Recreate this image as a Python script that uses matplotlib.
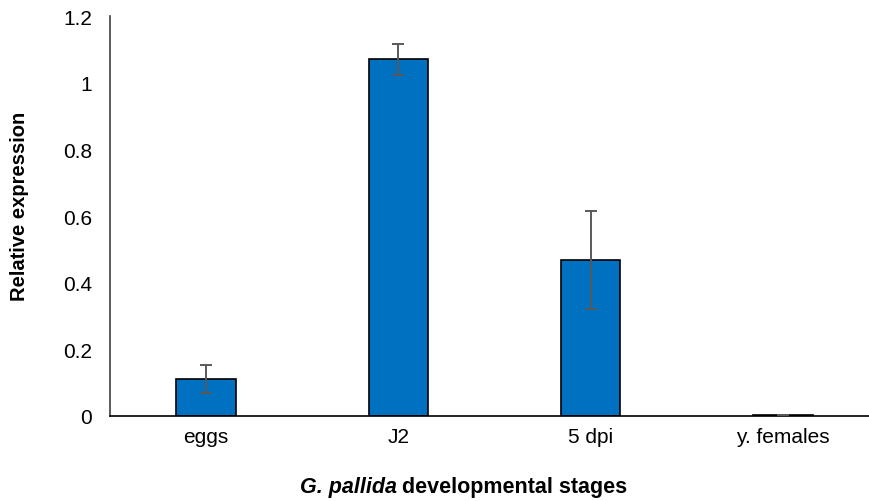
import matplotlib
matplotlib.use("Agg")
import matplotlib.pyplot as plt

stages = ["eggs", "J2", "5 dpi", "y. females"]
expression = [0.11, 1.07, 0.468, 0.003]
errors = [0.042, 0.046, 0.147, 0.0]
y_ticks = [0, 0.2, 0.4, 0.6, 0.8, 1, 1.2]
y_tick_labels = ["0", "0.2", "0.4", "0.6", "0.8", "1", "1.2"]

plt.rcParams["font.family"] = ["Liberation Sans", "DejaVu Sans"]

W, H = 870, 502
fig = plt.figure(figsize=(W / 100, H / 100), dpi=100)
# plot area runs a little past the right edge of the figure
left, right, bottom, top = 110, 879, 417, 17
ax = fig.add_axes([left / W, 1 - bottom / H, (right - left) / W, (bottom - top) / H])

x = list(range(len(stages)))
ax.bar(x, expression, width=0.31, color="#0070C0", edgecolor="black",
       linewidth=1.2, zorder=2)
ax.errorbar(x, expression, yerr=errors, fmt="none", ecolor="#595959",
            elinewidth=1.4, capsize=4.5, capthick=1.4, zorder=3)

ax.set_xlim(-0.5, len(stages) - 0.5)
ax.set_ylim(0, 1.2)
ax.set_yticks(y_ticks)
ax.set_yticklabels(y_tick_labels)
ax.set_xticks(x)
ax.set_xticklabels(stages)
ax.tick_params(axis="both", length=0, labelsize=15, colors="black")
ax.tick_params(axis="y", pad=13)
ax.tick_params(axis="x", pad=8)

for side in ["top", "right"]:
    ax.spines[side].set_visible(False)
ax.spines["left"].set_color("#404040")
ax.spines["left"].set_linewidth(1.2)
ax.spines["bottom"].set_color("black")
ax.spines["bottom"].set_linewidth(1.2)

fig.text(20 / W, 1 - 206 / H, "Relative expression", rotation=90,
         ha="center", va="center", fontsize=14.5, fontweight="bold")

# x axis title: italic species name followed by plain bold text
t1 = fig.text(300 / W, 1 - 488 / H, "G. pallida", fontsize=15.5,
              fontweight="bold", fontstyle="italic", ha="left", va="center")
fig.canvas.draw()
bb = t1.get_window_extent()
fig.text((bb.x1 + 5) / W, 1 - 488 / H, "developmental stages", fontsize=15.5,
         fontweight="bold", ha="left", va="center")

fig.savefig("out.png", dpi=100)
